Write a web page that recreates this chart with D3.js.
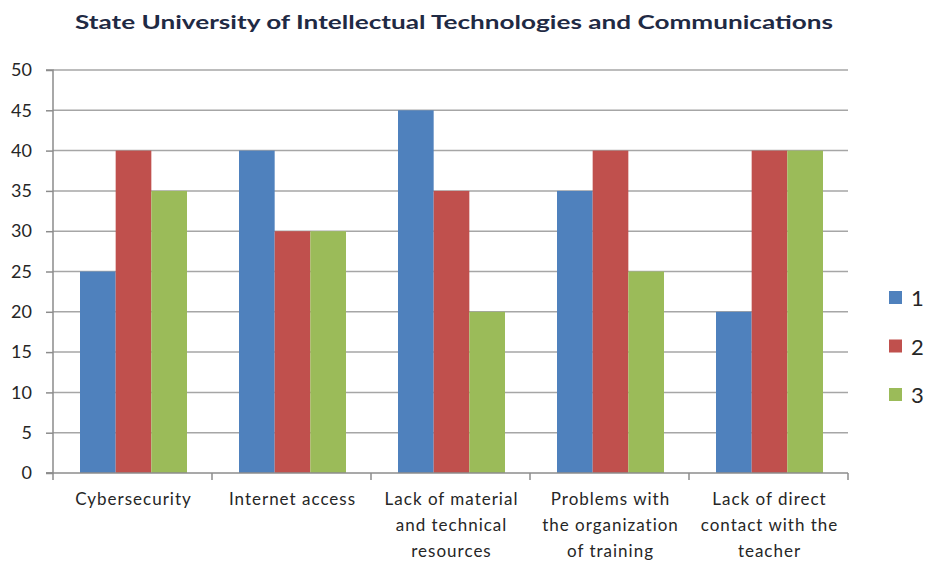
<!DOCTYPE html>
<html><head><meta charset="utf-8">
<script src="https://cdn.jsdelivr.net/npm/d3@7"></script>
<style>body{margin:0;background:#fff}svg{display:block}</style>
</head><body>
<svg id="c" width="934" height="561"></svg>
<script>
const title = "State University of Intellectual Technologies and Communications";
const categories = [
  ["Cybersecurity"],
  ["Internet access"],
  ["Lack of material", "and technical", "resources"],
  ["Problems with", "the organization", "of training"],
  ["Lack of direct", "contact with the", "teacher"]
];
const seriesNames = ["1", "2", "3"];
const series1 = [25, 40, 45, 35, 20];
const series2 = [40, 30, 35, 40, 40];
const series3 = [35, 30, 20, 25, 40];
const yTicks = [0, 5, 10, 15, 20, 25, 30, 35, 40, 45, 50];
const colors = ["#4F81BD", "#C0504D", "#9BBB59"];

const allSeries = [series1, series2, series3];
const svg = d3.select("#c");
const m = {l: 53, r: 848, t: 70, b: 473};
const font = "Lato, 'Open Sans', sans-serif";

const x0 = d3.scaleBand().domain(d3.range(categories.length)).range([m.l, m.r]).paddingInner(0).paddingOuter(0);
const groupW = 107;
const x1 = d3.scaleBand().domain(d3.range(seriesNames.length)).range([0, groupW]);
const y = d3.scaleLinear().domain([0, 50]).range([m.b, m.t]);

// gridlines
svg.append("g").selectAll("line").data(yTicks.filter(d => d > 0)).join("line")
  .attr("x1", m.l).attr("x2", m.r)
  .attr("y1", d => y(d)).attr("y2", d => y(d))
  .attr("stroke", "#a6a6a6").attr("stroke-width", 1.5);

// bars
const g = svg.append("g");
categories.forEach((c, i) => {
  const gx = x0(i) + (x0.bandwidth() - groupW) / 2 + 1;
  allSeries.forEach((s, j) => {
    g.append("rect")
      .attr("x", gx + x1(j)).attr("width", x1.bandwidth())
      .attr("y", y(s[i])).attr("height", y(0) - y(s[i]))
      .attr("fill", colors[j]);
  });
});

// y axis
const ya = svg.append("g").attr("transform", `translate(${m.l},0)`)
  .call(d3.axisLeft(y).tickValues(yTicks).tickSize(7).tickPadding(14));
ya.select(".domain").attr("stroke", "#8c8c8c").attr("stroke-width", 1.5);
ya.selectAll(".tick line").attr("stroke", "#8c8c8c").attr("stroke-width", 1.5);
ya.selectAll(".tick text").attr("font-family", font).attr("font-size", 18).attr("fill", "#262626");
ya.select(".domain").attr("d", `M-7,${m.t}H0V${m.b}H-7`);

// x axis
const xa = svg.append("g");
xa.append("line").attr("x1", m.l - 7).attr("x2", m.r).attr("y1", m.b).attr("y2", m.b)
  .attr("stroke", "#8c8c8c").attr("stroke-width", 1.5);
const bounds = d3.range(categories.length + 1).map(i => i < categories.length ? x0(i) : m.r);
xa.selectAll(".xt").data(bounds).join("line").attr("class", "xt")
  .attr("x1", d => d).attr("x2", d => d).attr("y1", m.b).attr("y2", m.b + 7)
  .attr("stroke", "#8c8c8c").attr("stroke-width", 1.5);
categories.forEach((lines, i) => {
  const cx = x0(i) + x0.bandwidth() / 2 + 1;
  const t = xa.append("text").attr("x", cx).attr("y", 505)
    .attr("text-anchor", "middle").attr("font-family", font).attr("font-size", 17)
    .attr("letter-spacing", 1).attr("fill", "#262626");
  lines.forEach((ln, k) => t.append("tspan").attr("x", cx).attr("dy", k ? 26 : 0).text(ln));
});

// title
svg.append("text").attr("x", 454).attr("y", 29).attr("text-anchor", "middle")
  .attr("font-family", font).attr("font-weight", "bold").attr("font-size", 19).attr("fill", "#1f2a44")
  .attr("textLength", 758).attr("lengthAdjust", "spacingAndGlyphs").text(title);

// legend
const lg = svg.append("g");
seriesNames.forEach((n, j) => {
  const cy = 298 + j * 48.5;
  lg.append("rect").attr("x", 889).attr("y", cy - 7).attr("width", 13).attr("height", 13).attr("fill", colors[j]);
  lg.append("text").attr("x", 911).attr("y", cy + 8).attr("font-family", font).attr("font-size", 22).attr("fill", "#262626").text(n);
});
</script>
</body></html>
